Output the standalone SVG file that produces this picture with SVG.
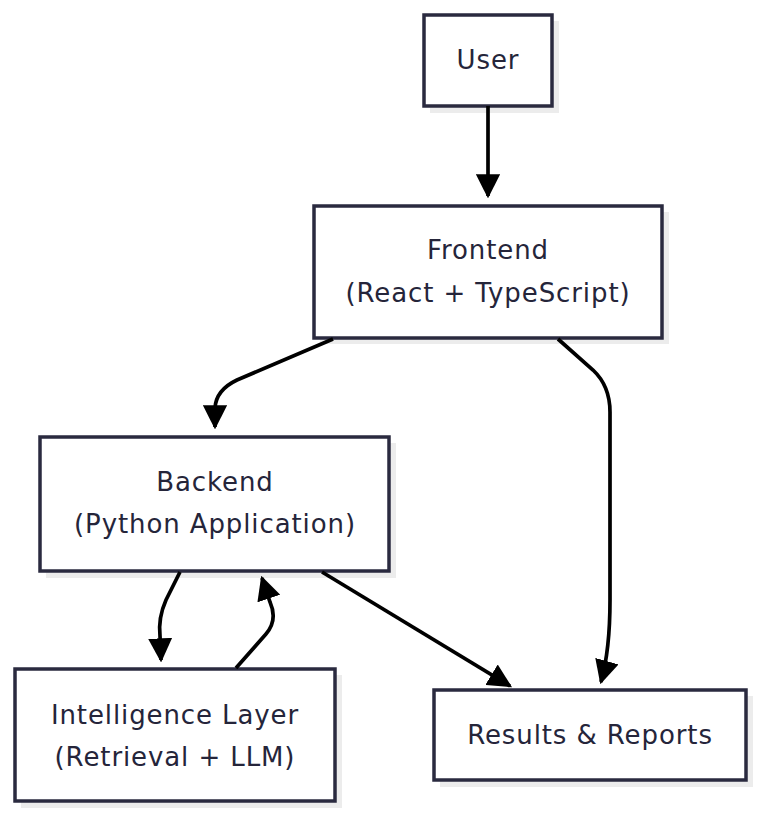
<svg xmlns="http://www.w3.org/2000/svg" width="762" height="818" viewBox="0 0 762 818">
<defs>
<style>
.shadow{fill:#ececec}
.box{fill:#ffffff;stroke:#2a2a3f;stroke-width:3.5}
.lbl{font-family:"DejaVu Sans","Noto Sans",sans-serif;font-size:26px;letter-spacing:0.9px;fill:#25253a;text-anchor:middle}
.edge{fill:none;stroke:#000;stroke-width:3.7}
</style>
<marker id="ah" viewBox="0 0 10 10" refX="9" refY="5" markerWidth="6.5" markerHeight="6.5" markerUnits="strokeWidth" orient="auto">
<path d="M0,0 L10,5 L0,10 z" fill="#000"/>
</marker>
</defs>
<rect width="762" height="818" fill="#ffffff"/>
<g id="user">
<rect class="shadow" x="430" y="21" width="129" height="92"/>
<rect class="box" x="424" y="15" width="128" height="91"/>
<text class="lbl" x="488" y="69">User</text>
</g>
<g id="frontend">
<rect class="shadow" x="320" y="212" width="349" height="132"/>
<rect class="box" x="314" y="206" width="348" height="132"/>
<text class="lbl" x="488" y="259">Frontend</text>
<text class="lbl" x="488" y="302">(React + TypeScript)</text>
</g>
<g id="backend">
<rect class="shadow" x="46" y="443" width="350" height="135"/>
<rect class="box" x="40" y="437" width="349" height="134"/>
<text class="lbl" x="215" y="491">Backend</text>
<text class="lbl" x="215" y="533">(Python Application)</text>
</g>
<g id="intelligence">
<rect class="shadow" x="21" y="675" width="321" height="133"/>
<rect class="box" x="15" y="669" width="320" height="132"/>
<text class="lbl" x="175" y="724">Intelligence Layer</text>
<text class="lbl" x="175" y="766">(Retrieval + LLM)</text>
</g>
<g id="results">
<rect class="shadow" x="440" y="696" width="313" height="91"/>
<rect class="box" x="434" y="690" width="312" height="90"/>
<text class="lbl" x="590" y="744">Results &amp; Reports</text>
</g>
<g id="connectors">
<path class="edge" d="M488,106 L488,196" marker-end="url(#ah)"/>
<path class="edge" d="M333,339 L237,380 Q216,390 215,408 L215,427" marker-end="url(#ah)"/>
<path class="edge" d="M558,339 L593,370 Q610,386 610,412 L610,600 Q610,650 601,682" marker-end="url(#ah)"/>
<path class="edge" d="M180,572 L166,600 Q158,618 160,636 L161,660" marker-end="url(#ah)"/>
<path class="edge" d="M236,668 L266,634 Q278,620 270,602 L262,578" marker-end="url(#ah)"/>
<path class="edge" d="M322,572 L510,686" marker-end="url(#ah)"/>
</g>
</svg>
